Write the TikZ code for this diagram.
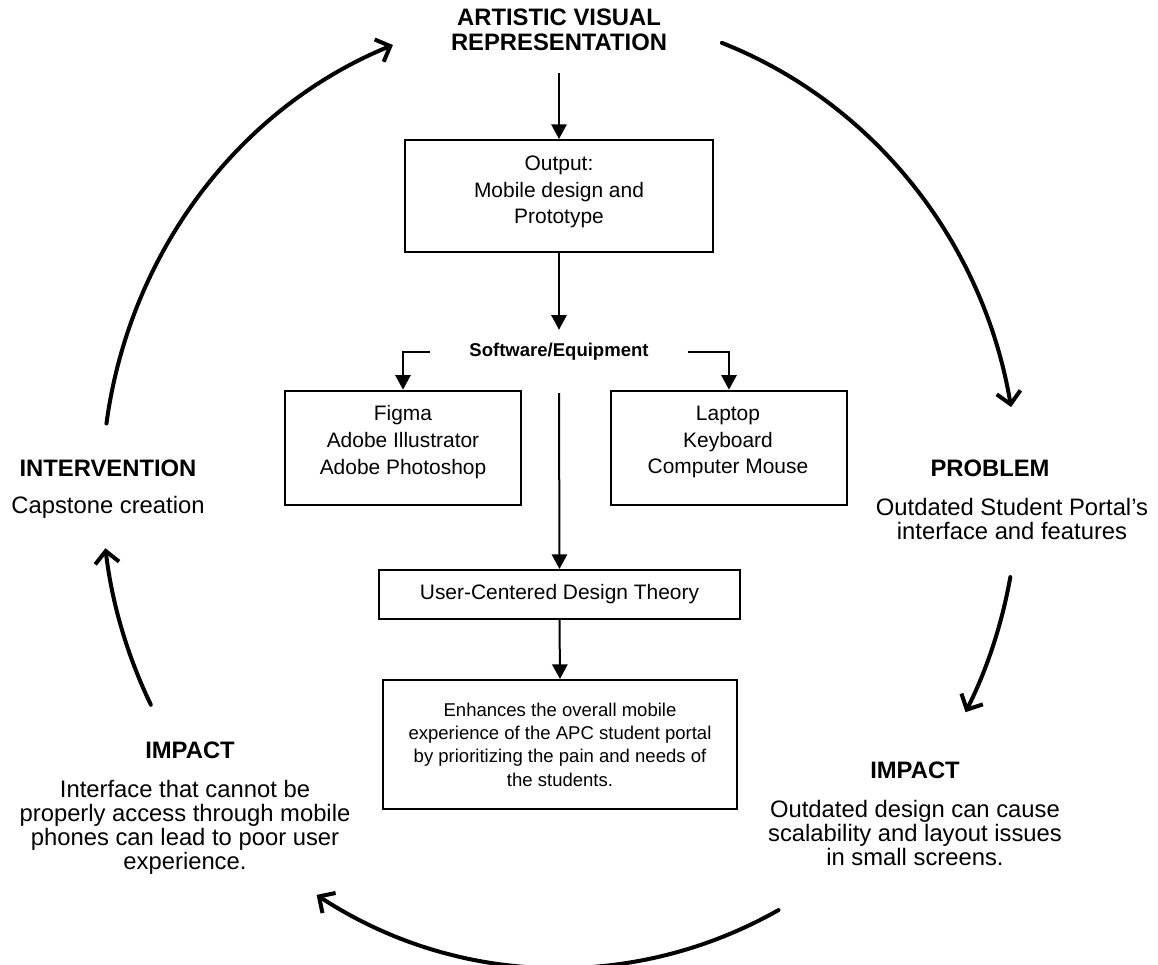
\documentclass[tikz,border=0pt]{standalone}
\usepackage{fontspec}
\setmainfont{Liberation Sans}
\usetikzlibrary{arrows.meta}
\begin{document}
\begin{tikzpicture}[x=0.75pt,y=-0.75pt,
  box/.style={draw, line width=1.5pt, rectangle, inner sep=0pt},
  conn/.style={line width=1.5pt, -{Triangle[length=11pt,width=11.5pt]}},
  cyc/.style={line width=3pt, line cap=round, -{Straight Barb[length=9pt,width=18pt]}},
  big/.style={font=\fontsize{17.85pt}{18pt}\selectfont, align=center, inner sep=0pt},
  hd/.style={font=\fontsize{17.85pt}{18.4pt}\selectfont\bfseries, align=center, inner sep=0pt},
  boxtxt/.style={font=\fontsize{15.7pt}{20pt}\selectfont, align=center, inner sep=0pt},
  smalltxt/.style={font=\fontsize{13.9pt}{17.5pt}\selectfont, align=center, inner sep=0pt}
]
\useasboundingbox (0,0) rectangle (1158,965);

% central flow
\node[hd] (title) at (559,30) {ARTISTIC VISUAL\\REPRESENTATION};
\node[box, minimum width=231pt, minimum height=84pt] (out) at (559,196) {};
\node[boxtxt] (outT) at (559,192) {Output:\\Mobile design and\\Prototype};
\node[font=\fontsize{13.9pt}{16pt}\selectfont\bfseries, inner xsep=29pt, inner ysep=10pt] (sw) at (559,352) {Software/Equipment};
\node[box, minimum width=177pt, minimum height=86pt] (fig) at (403,448) {};
\node[boxtxt] (figT) at (403,442) {Figma\\Adobe Illustrator\\Adobe Photoshop};
\node[box, minimum width=177pt, minimum height=86pt] (lap) at (729,448) {};
\node[boxtxt] (lapT) at (728,442) {Laptop\\Keyboard\\Computer Mouse};
\coordinate (midtop) at (559,393);
\node[box, boxtxt, minimum width=270.75pt, minimum height=36.75pt] (ucd) at (559.5,594.5) {User-Centered Design Theory};
\node[box, smalltxt, minimum width=265.5pt, minimum height=96.75pt] (enh) at (560,744.5) {Enhances the overall mobile\\experience of the APC student portal\\by prioritizing the pain and needs of\\the students.};

\draw[conn] (title.south |- 0,73) coordinate (tbot) -- (out.north);
\draw[conn] (out.south) -- (sw.north);
\draw[conn] (sw.west) -| (fig.north);
\draw[conn] (sw.east) -| (lap.north);
\draw[conn] (midtop) -- (ucd.north);
\draw[conn] (ucd.south) -- (enh.north);

% cycle labels
\node[hd] (intH) at (108,468) {INTERVENTION};
\node[big] (intB) at (108,507) {Capstone creation};
\node[hd] (probH) at (990,468) {PROBLEM};
\node[big] (probB) at (1012,519) {Outdated Student Portal's\\interface and features};
\node[hd] (impRH) at (915,770) {IMPACT};
\node[big] (impRB) at (915,833) {Outdated design can cause\\scalability and layout issues\\in small screens.};
\node[hd] (impLH) at (190,750) {IMPACT};
\node[big] (impLB) at (185,827) {Interface that cannot be\\properly access through mobile\\phones can lead to poor user\\experience.};

% cycle arcs on a common ellipse
\coordinate (C) at (560,490);
\path (C) ++(172:343.5pt and 358.5pt) coordinate (a1);
\path (C) ++(69.3:343.5pt and 358.5pt) coordinate (a2);
\path (C) ++(-10.5:343.5pt and 358.5pt) coordinate (a3);
\path (C) ++(-61.5:343.5pt and 358.5pt) coordinate (a4);
\path (C) ++(206.7:343.5pt and 358.5pt) coordinate (a5);
\draw[cyc] (a1) arc[start angle=172, end angle=111.4, x radius=343.5pt, y radius=358.5pt];
\draw[cyc] (a2) arc[start angle=69.3, end angle=10, x radius=343.5pt, y radius=358.5pt];
\draw[cyc] (a3) arc[start angle=-10.5, end angle=-27.7, x radius=343.5pt, y radius=358.5pt];
\draw[cyc] (a4) arc[start angle=-61.5, end angle=-122.1, x radius=343.5pt, y radius=358.5pt];
\draw[cyc] (a5) arc[start angle=206.7, end angle=187, x radius=343.5pt, y radius=358.5pt];
\end{tikzpicture}
\end{document}
